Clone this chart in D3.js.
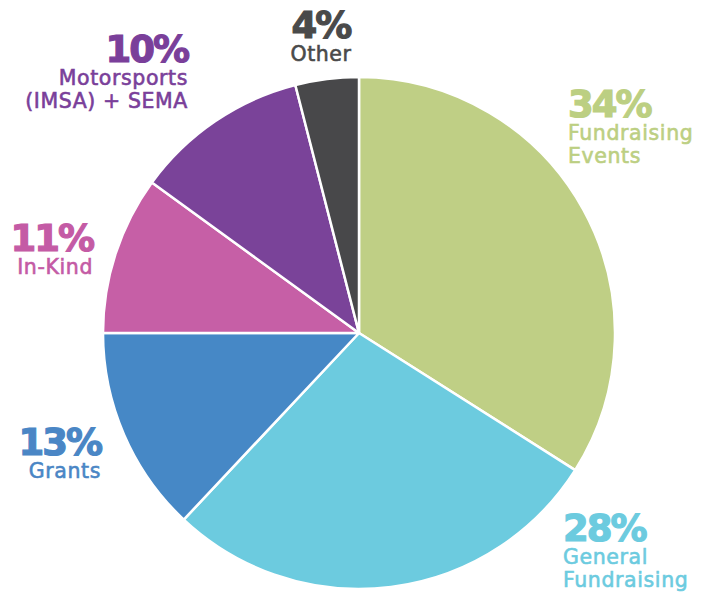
<!DOCTYPE html>
<html>
<head>
<meta charset="UTF-8">
<style>
  * { margin: 0; padding: 0; }
  body { background: #fff; }
  text { font-family: "DejaVu Sans", sans-serif; }
</style>
<script src="https://cdn.jsdelivr.net/npm/d3@7"></script>
</head>
<body>
<svg width="703" height="592" id="chart"></svg>
<script>
// 数据
const categories = ["Fundraising Events", "General Fundraising", "Grants", "In-Kind", "Motorsports (IMSA) + SEMA", "Other"];
// 扇区大小（按图中的角度读取）
const values = [34, 28, 13, 10, 11, 4];
// 图中标注的百分比
const percentLabels = ["34%", "28%", "13%", "11%", "10%", "4%"];
const colors = ["#bfcf85", "#6ccbdf", "#4688c6", "#c65fa6", "#7a4399", "#48484a"];
const textColors = ["#bccf82", "#6ccbdf", "#4a86c5", "#c45ba5", "#7a3f9a", "#4a4a4a"];
// 标签的行
const labelLines = [["Fundraising", "Events"], ["General", "Fundraising"], ["Grants"], ["In-Kind"], ["Motorsports", "(IMSA) + SEMA"], ["Other"]];

const svg = d3.select("#chart");
const cx = 359, cy = 333, r = 256;

const pie = d3.pie().sort(null).value(d => d)(values);
const arc = d3.arc().innerRadius(0).outerRadius(r);

svg.append("g")
  .attr("transform", `translate(${cx},${cy})`)
  .selectAll("path").data(pie).enter()
  .append("path")
  .attr("d", arc)
  .attr("fill", (d, i) => colors[i])
  .attr("stroke", "#fff")
  .attr("stroke-width", 2.5)
  .attr("stroke-linejoin", "round");

// 标签位置（x, 百分比基线, 对齐）
const labelPos = [
  {x: 568, y: 117, anchor: "start"},
  {x: 563, y: 541, anchor: "start"},
  {x: 101, y: 455, anchor: "end"},
  {x: 93, y: 251, anchor: "end"},
  {x: 188, y: 62, anchor: "end"},
  {x: 321, y: 38, anchor: "middle"}
];

const labels = svg.append("g").selectAll("g").data(percentLabels).enter()
  .append("g");

labels.append("text")
  .attr("x", (d, i) => labelPos[i].x)
  .attr("y", (d, i) => labelPos[i].y)
  .attr("text-anchor", (d, i) => labelPos[i].anchor)
  .attr("fill", (d, i) => textColors[i])
  .attr("stroke", (d, i) => textColors[i])
  .attr("stroke-width", 1.2)
  .attr("font-size", 37)
  .attr("font-weight", "bold")
  .attr("letter-spacing", -2)
  .text(d => d);

labels.each(function (d, i) {
  const g = d3.select(this);
  labelLines[i].forEach((line, j) => {
    g.append("text")
      .attr("x", labelPos[i].x)
      .attr("y", labelPos[i].y + 23 + j * 23)
      .attr("text-anchor", labelPos[i].anchor)
      .attr("fill", textColors[i])
      .attr("stroke", textColors[i])
      .attr("stroke-width", 0.6)
      .attr("font-size", 20.5)
      .attr("letter-spacing", 0.6)
      .text(line);
  });
});
</script>
</body>
</html>
